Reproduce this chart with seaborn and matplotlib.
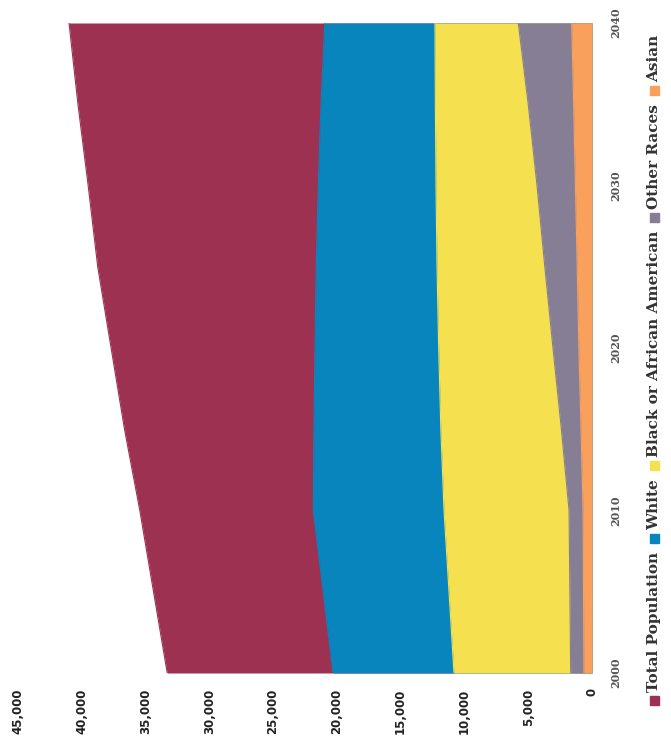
import pandas as pd
import seaborn as sns
import matplotlib.pyplot as plt
from matplotlib.patches import Rectangle

years = [2000, 2010, 2015, 2020, 2025, 2030, 2035, 2040]
total = [33300, 35450, 36650, 37700, 38750, 39500, 40300, 41000]
white = [20300, 21850, 21800, 21720, 21620, 21460, 21250, 20950]
black = [10820, 11600, 11850, 12020, 12150, 12230, 12280, 12310]
other = [1670, 1800, 2400, 3060, 3700, 4310, 5000, 5780]
asian = [630, 700, 860, 1030, 1160, 1300, 1440, 1590]

series = ["Total Population", "White", "Black or African American", "Other Races", "Asian"]
colors = ["#9c3152", "#0985bd", "#f5e150", "#867e95", "#f8a05c"]
value_ticks = [0, 5000, 10000, 15000, 20000, 25000, 30000, 35000, 40000, 45000]
year_ticks = [2000, 2010, 2020, 2030, 2040]

df = pd.DataFrame({"year": years, "Total Population": total, "White": white,
                   "Black or African American": black, "Other Races": other, "Asian": asian})
df = df.melt(id_vars="year", var_name="group", value_name="people")

sns.set_theme(style="white")
W, H = 671, 740
fig = plt.figure(figsize=(W / 100, H / 100), dpi=100)
# chart is drawn turned a quarter turn: years run up, values run left
ax = fig.add_axes([18 / W, 67 / H, (592 - 18) / W, 650 / H])

for name, col in zip(series, colors):
    sub = df[df.group == name]
    ax.fill_betweenx(sub.year, 0, sub.people, color=col, lw=0)
    sns.lineplot(data=sub, x="people", y="year", orient="y", color=col, lw=0.8, ax=ax)

ax.set_xlim(45000, 0)
ax.set_ylim(2000, 2040)
ax.set_xlabel("")
ax.set_ylabel("")
for s in ax.spines.values():
    s.set_visible(False)

ax.set_xticks(value_ticks)
ax.set_xticklabels([f"{v:,}" for v in value_ticks], rotation=90,
                   fontsize=8.5, fontweight="bold", color="#222222", family="DejaVu Sans")
ax.tick_params(axis="x", length=0, pad=11)

ax.yaxis.tick_right()
ax.set_yticks(year_ticks)
ax.set_yticklabels([str(y) for y in year_ticks], rotation=90, fontsize=8,
                   color="#555555", family="DejaVu Serif", fontweight="bold")
for lbl in ax.get_yticklabels():
    lbl.set_va("center")
ax.tick_params(axis="y", length=0, pad=13)

# legend, written upwards along the right edge
fig.canvas.draw()
r = fig.canvas.get_renderer()
xc = 654
y = 705
for name, col in zip(series, colors):
    fig.add_artist(Rectangle(((xc - 4.5) / W, (H - y) / H), 9 / W, 9 / H,
                             transform=fig.transFigure, color=col))
    t = fig.text(xc / W, (H - y + 13) / H, name, rotation=90, ha="center", va="bottom",
                 fontsize=11, fontweight="bold", family="DejaVu Serif", color="#333333")
    h = t.get_window_extent(r).height
    y = y - 13 - h - 9

fig.savefig("out.png", dpi=100)
